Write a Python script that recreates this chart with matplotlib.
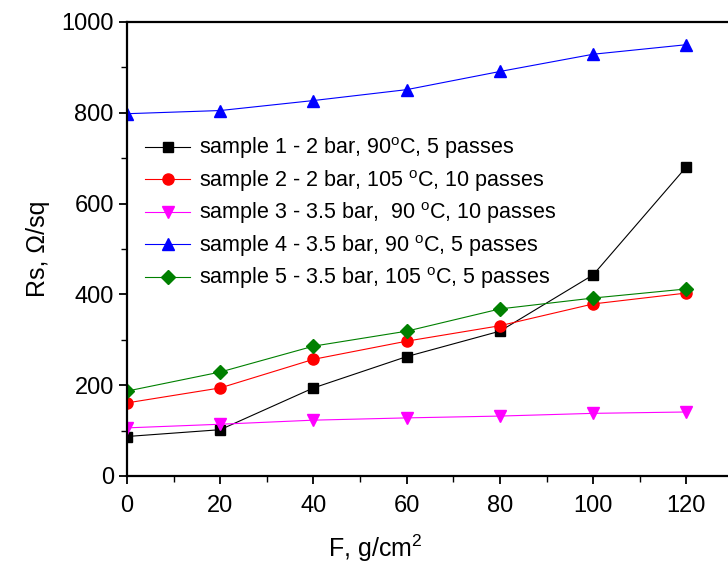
import numpy as np
import matplotlib
matplotlib.use("Agg")
import matplotlib.pyplot as plt
from matplotlib.ticker import MultipleLocator

plt.rcParams['font.family'] = ['Liberation Sans', 'DejaVu Sans']
plt.rcParams['mathtext.fontset'] = 'custom'
plt.rcParams['mathtext.rm'] = 'Liberation Sans'
plt.rcParams['mathtext.it'] = 'Liberation Sans'

# Data
F = [0, 20, 40, 60, 80, 100, 120]
rs_s1 = [87, 102, 194, 263, 319, 443, 681]
rs_s2 = [161, 194, 257, 297, 331, 379, 403]
rs_s3 = [106, 114, 123, 128, 132, 138, 141]
rs_s4 = [798, 805, 827, 851, 891, 929, 950]
rs_s5 = [187, 229, 286, 319, 368, 392, 412]

labels = [
    "sample 1 - 2 bar, 90$^{\\mathrm{o}}$C, 5 passes",
    "sample 2 - 2 bar, 105 $^{\\mathrm{o}}$C, 10 passes",
    "sample 3 - 3.5 bar,  90 $^{\\mathrm{o}}$C, 10 passes",
    "sample 4 - 3.5 bar, 90 $^{\\mathrm{o}}$C, 5 passes",
    "sample 5 - 3.5 bar, 105 $^{\\mathrm{o}}$C, 5 passes",
]

fig = plt.figure(figsize=(7.28, 5.70), dpi=100)
ax = fig.add_axes([127/728, 1 - 476/570, 606/728, 454/570])

ax.plot(F, rs_s1, '-s', color='black', lw=0.8, ms=7, label=labels[0])
ax.plot(F, rs_s2, '-o', color='red', lw=0.8, ms=8, label=labels[1])
ax.plot(F, rs_s3, '-v', color='magenta', lw=0.8, ms=8, label=labels[2])
ax.plot(F, rs_s4, '-^', color='blue', lw=0.8, ms=8, label=labels[3])
ax.plot(F, rs_s5, '-D', color='green', lw=0.8, ms=7, label=labels[4])

ax.set_xlim(0, 130)
ax.set_ylim(0, 1000)
ax.xaxis.set_major_locator(MultipleLocator(20))
ax.xaxis.set_minor_locator(MultipleLocator(10))
ax.yaxis.set_major_locator(MultipleLocator(200))
ax.yaxis.set_minor_locator(MultipleLocator(100))
ax.tick_params(which='major', direction='out', length=6, width=1.3, labelsize=17)
ax.tick_params(axis='x', which='major', pad=8)
ax.tick_params(which='minor', direction='out', length=4, width=1.0)
for s in ax.spines.values():
    s.set_linewidth(1.6)

ax.set_xlabel("F, g/cm$^{2}$", fontsize=18)
ax.xaxis.set_label_coords((375 - 127) / 606, -0.125)
ax.set_ylabel("Rs, \u03a9/sq", fontsize=18, labelpad=8)

ax.legend(loc='upper left', bbox_to_anchor=(0.03, 0.75), frameon=False,
          fontsize=15.5, handlelength=2.1, handletextpad=0.4, labelspacing=0.31,
          borderaxespad=0, borderpad=0)

fig.savefig("out.png", dpi=100)
